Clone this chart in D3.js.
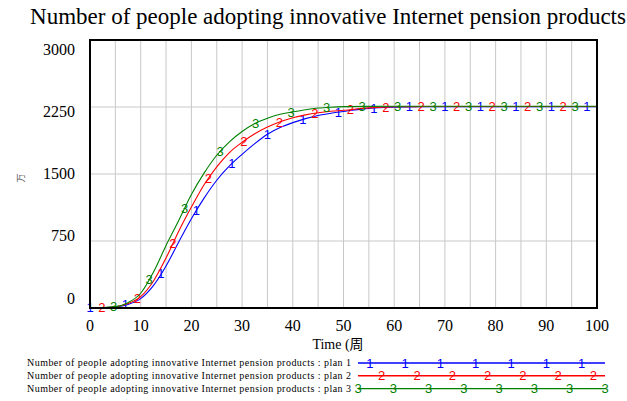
<!DOCTYPE html>
<html><head><meta charset="utf-8">
<script src="https://cdn.jsdelivr.net/npm/d3@7"></script>
<style>body{margin:0;background:#fff}svg{display:block}</style>
</head><body><svg id="c" width="627" height="401"></svg>
<script>
const title = "Number of people adopting innovative Internet pension products";
const xLabel = "Time (周";
const yLabel = "万";
const xTicks = [0,10,20,30,40,50,60,70,80,90,100];
const yTicks = [0,750,1500,2250,3000];
const seriesNames = ["Number of people adopting innovative Internet pension products : plan 1",
  "Number of people adopting innovative Internet pension products : plan 2",
  "Number of people adopting innovative Internet pension products : plan 3"];
const seriesMarks = ["1","2","3"];
const seriesColors = ["#0000ff","#ff0000","#008000"];
const times = [0,2.5,5,7.5,10,12.5,15,17.5,20,22.5,25,27.5,30,32.5,35,37.5,40,42.5,45,47.5,50,55,60,65,70,80,90,100];
const plan1 = [3,5,12,40,105,250,470,740,1000,1230,1430,1590,1720,1840,1945,2020,2075,2120,2155,2180,2200,2235,2248,2252,2253,2254,2254,2254];
const plan2 = [3,5,14,50,128,300,560,860,1130,1380,1580,1740,1855,1950,2025,2085,2130,2162,2185,2202,2213,2240,2252,2255,2256,2256,2256,2256];
const plan3 = [3,5,15,60,165,400,700,980,1270,1510,1710,1860,1975,2065,2125,2168,2195,2220,2238,2248,2254,2257,2258,2258,2258,2258,2258,2258];
const seriesValues = [plan1, plan2, plan3];

const svg = d3.select("#c");
const x = d3.scaleLinear().domain([0,100]).range([90,597]);
const y = d3.scaleLinear().domain([0,3000]).range([308,40]);
const yLab = d3.scaleLinear().domain([0,3000]).range([298,49]);

// title
svg.append("text").attr("x",328).attr("y",24).attr("text-anchor","middle")
  .attr("font-family","Liberation Serif").attr("font-size",23).text(title);

// grid
svg.append("g").selectAll("line").data(d3.range(5,100,5)).join("line")
  .attr("x1",d=>x(d)).attr("x2",d=>x(d)).attr("y1",y(3000)).attr("y2",y(0))
  .attr("stroke","#c8c8c8").attr("stroke-width",1);
svg.append("g").selectAll("line").data(yTicks.filter(d=>d>0&&d<3000)).join("line")
  .attr("x1",x(0)).attr("x2",x(100)).attr("y1",d=>y(d)).attr("y2",d=>y(d))
  .attr("stroke","#c8c8c8").attr("stroke-width",1);

// lines
const line = d3.line().x(d=>x(d[0])).y(d=>y(d[1])).curve(d3.curveMonotoneX);
function valAt(vals,t){
  for(let i=0;i<times.length-1;i++){
    if(t>=times[i]&&t<=times[i+1]){const f=(t-times[i])/(times[i+1]-times[i]);return vals[i]+f*(vals[i+1]-vals[i]);}
  }
  return vals[vals.length-1];
}
seriesValues.forEach((vals,si)=>{
  const pts = times.map((t,i)=>[t,vals[i]]);
  svg.append("path").attr("d",line(pts)).attr("fill","none")
    .attr("stroke",seriesColors[si]).attr("stroke-width",1.1);
  const mt = d3.range(si*7/3, 100.01, 7);
  svg.append("g").selectAll("text").data(mt).join("text")
    .attr("x",d=>x(d)).attr("y",d=>y(valAt(vals,d))+4.5)
    .attr("text-anchor","middle").attr("font-family","Liberation Sans")
    .attr("font-size",13).attr("fill",seriesColors[si]).text(seriesMarks[si]);
});

// border
svg.append("rect").attr("x",x(0)).attr("y",y(3000)).attr("width",x(100)-x(0)).attr("height",y(0)-y(3000))
  .attr("fill","none").attr("stroke","#000").attr("stroke-width",2);

// y labels
svg.append("g").selectAll("text").data(yTicks).join("text")
  .attr("x",75).attr("y",d=>yLab(d)+5.5).attr("text-anchor","end")
  .attr("font-family","Liberation Serif").attr("font-size",16).text(d=>d);
// x labels
svg.append("g").selectAll("text").data(xTicks).join("text")
  .attr("x",d=>x(d)).attr("y",331).attr("text-anchor","middle")
  .attr("font-family","Liberation Serif").attr("font-size",16).text(d=>d);

svg.append("text").attr("x",338).attr("y",349).attr("text-anchor","middle")
  .attr("font-family","Liberation Serif, Noto Sans CJK SC").attr("font-size",14).text(xLabel);
svg.append("text").attr("transform","translate(24,178) rotate(-90)").attr("text-anchor","middle")
  .attr("font-family","Noto Sans CJK SC").attr("font-size",9).attr("fill","#555").text(yLabel);

// legend
const lx = d3.scaleLinear().domain([0,100]).range([358,605]);
const legendOffsets = [4.8, 9.6, 0];
seriesNames.forEach((nm,si)=>{
  const ly = 363 + si*12.8;
  svg.append("text").attr("x",27).attr("y",ly+3).attr("font-family","Liberation Serif")
    .attr("font-size",10).attr("textLength",324).attr("lengthAdjust","spacing").text(nm);
  svg.append("line").attr("x1",lx(0)).attr("x2",lx(100)).attr("y1",ly).attr("y2",ly)
    .attr("stroke",seriesColors[si]).attr("stroke-width",1.4);
  const mt = d3.range(legendOffsets[si], 100.5, 100/7);
  svg.append("g").selectAll("text").data(mt).join("text")
    .attr("x",d=>lx(d)).attr("y",ly+4.5).attr("text-anchor","middle")
    .attr("font-family","Liberation Sans").attr("font-size",13).attr("fill",seriesColors[si]).text(seriesMarks[si]);
});
</script></body></html>
